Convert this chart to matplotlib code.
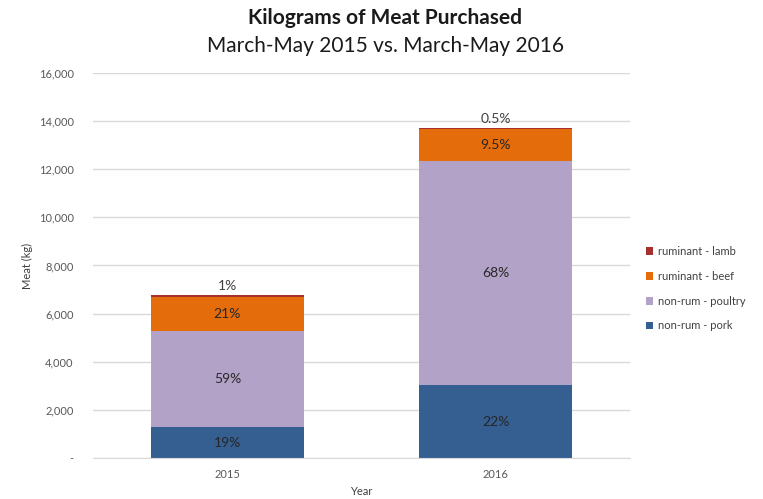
import numpy as np
import matplotlib
matplotlib.use("Agg")
import matplotlib.pyplot as plt
from matplotlib.ticker import FuncFormatter

plt.rcParams['font.family'] = ['Lato', 'DejaVu Sans']

# --- data ---
years = ["2015", "2016"]
totals = [6770, 13730]  # kg, March-May
categories = ["non-rum - pork", "non-rum - poultry", "ruminant - beef", "ruminant - lamb"]
share_pork = [19, 22]
share_poultry = [59, 68]
share_beef = [21, 9.5]
share_lamb = [1, 0.5]
colors = ["#365F91", "#B3A2C7", "#E46C0A", "#A5302D"]

shares = [share_pork, share_poultry, share_beef, share_lamb]

fig = plt.figure(figsize=(7.63, 4.99), dpi=100)
ax = fig.add_axes([0.122, 0.082, 0.704, 0.772])

x = np.arange(len(years))
bottom = np.zeros(len(years))
for name, share, color in zip(categories, shares, colors):
    kg = np.array(totals) * np.array(share) / 100.0
    ax.bar(x, kg, width=0.57, bottom=bottom, color=color, label=name, zorder=2)
    for xi, b, h, s in zip(x, bottom, kg, share):
        txt = f"{s:g}%"
        if name == "ruminant - lamb":
            ax.text(xi, b + h + 120, txt, ha="center", va="bottom",
                    fontsize=10, color="#404040")
        else:
            ax.text(xi, b + h / 2, txt, ha="center", va="center",
                    fontsize=10, color="#262626")
    bottom += kg

ax.set_xlim(-0.5, 1.5)
ax.set_ylim(0, 16000)
ax.set_yticks(np.arange(0, 16001, 2000))
ax.yaxis.set_major_formatter(FuncFormatter(lambda v, p: "-" if v == 0 else f"{v:,.0f}"))
ax.set_xticks(x)
ax.set_xticklabels(years)
ax.tick_params(axis="both", length=0, labelsize=8, labelcolor="#595959")
ax.tick_params(axis="y", pad=14)
ax.tick_params(axis="x", pad=8)
ax.grid(axis="y", color="#D9D9D9", linewidth=1, zorder=0)
for side in ["top", "right", "left"]:
    ax.spines[side].set_visible(False)
ax.spines["bottom"].set_color("#D9D9D9")

ax.set_ylabel("Meat (kg)", fontsize=8, color="#404040", labelpad=4)
ax.set_xlabel("Year", fontsize=8, color="#404040", labelpad=4)

fig.text(0.505, 0.963, "Kilograms of Meat Purchased", ha="center", va="center",
         fontsize=15, fontweight="bold", color="#1a1a1a")
fig.text(0.505, 0.908, "March-May 2015 vs. March-May 2016", ha="center", va="center",
         fontsize=15, color="#1a1a1a")

handles, labels = ax.get_legend_handles_labels()
ax.legend(handles[::-1], labels[::-1], loc="center left", bbox_to_anchor=(1.01, 0.44),
          frameon=False, fontsize=8, handlelength=0.7, handleheight=0.7,
          handletextpad=0.4, labelspacing=1.25, labelcolor="#404040")

fig.savefig("out.png", dpi=100)
